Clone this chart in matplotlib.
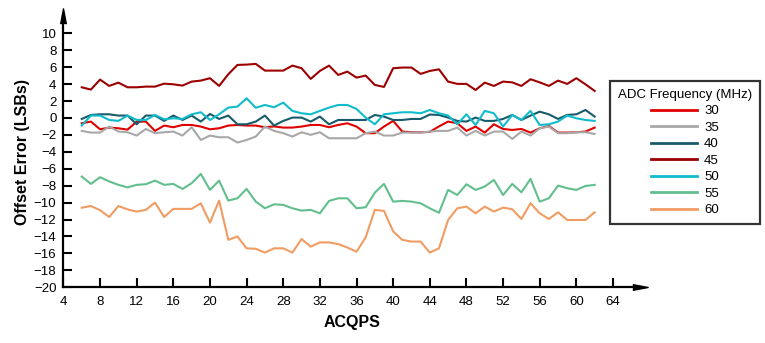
import matplotlib
matplotlib.use('Agg')
import matplotlib.pyplot as plt

# Datos (ACQPS de 6 a 62)
acqps = list(range(6, 63))

err_30 = [-0.63, -0.43, -1.34, -1.14, -1.22, -1.38, -0.43, -0.43, -1.53, -0.90,
          -1.10, -0.83, -0.83, -1.02, -1.34, -1.22, -0.90, -0.83, -0.90, -0.90,
          -1.10, -1.00, -1.14, -1.14, -1.02, -0.83, -0.83, -1.10, -0.83, -0.63,
          -1.02, -1.80, -1.80, -1.02, -0.35, -1.61, -1.69, -1.70, -1.65, -1.00,
          -0.43, -0.63, -1.53, -1.02, -1.73, -0.75, -1.30, -1.42, -1.30, -1.73,
          -1.22, -0.95, -1.73, -1.73, -1.69, -1.61, -1.14]
err_35 = [-1.53, -1.73, -1.73, -1.02, -1.61, -1.69, -2.08, -1.30, -1.80, -1.69,
          -1.61, -2.08, -1.10, -2.60, -2.08, -2.28, -2.28, -2.91, -2.60, -2.20,
          -1.02, -1.53, -1.80, -2.20, -1.69, -2.00, -1.69, -2.40, -2.40, -2.40,
          -2.40, -1.80, -1.61, -2.08, -2.08, -1.73, -1.73, -1.73, -1.61, -1.53,
          -1.53, -1.14, -2.08, -1.53, -2.08, -1.61, -1.61, -2.48, -1.61, -2.08,
          -1.22, -1.02, -1.80, -1.80, -1.69, -1.69, -1.89]
err_40 = [-0.12, 0.35, 0.43, 0.43, 0.28, 0.28, -0.75, 0.28, 0.28, -0.35,
          0.28, -0.24, 0.28, -0.43, 0.47, -0.12, 0.28, -0.75, -0.75, -0.43,
          0.28, -0.90, -0.35, 0.04, 0.04, -0.43, 0.16, -0.75, -0.24, -0.24,
          -0.24, -0.24, 0.35, 0.16, -0.24, -0.24, -0.12, -0.12, 0.40, 0.35,
          0.04, -0.35, -0.43, 0.04, -0.35, -0.35, -0.12, 0.35, -0.24, 0.28,
          0.74, 0.43, -0.12, 0.35, 0.43, 0.94, 0.16]
err_45 = [3.62, 3.35, 4.53, 3.78, 4.17, 3.62, 3.62, 3.70, 3.70, 4.05,
          3.97, 3.82, 4.29, 4.41, 4.69, 3.78, 5.16, 6.26, 6.30, 6.38,
          5.59, 5.59, 5.59, 6.18, 5.87, 4.61, 5.55, 6.18, 5.08, 5.47,
          4.76, 5.00, 3.90, 3.66, 5.87, 5.95, 5.95, 5.20, 5.55, 5.74,
          4.29, 4.02, 4.02, 3.30, 4.17, 3.78, 4.29, 4.20, 3.78, 4.57,
          4.20, 3.78, 4.41, 4.02, 4.69, 3.97, 3.19]
err_50 = [-0.90, 0.28, 0.28, -0.24, -0.35, 0.28, -0.24, -0.24, 0.35, -0.16,
          -0.04, -0.12, 0.43, 0.67, -0.24, 0.43, 1.22, 1.34, 2.32, 1.20,
          1.53, 1.26, 1.81, 0.83, 0.55, 0.43, 0.83, 1.22, 1.53, 1.53,
          1.06, 0.04, -0.75, 0.43, 0.55, 0.67, 0.67, 0.55, 0.94, 0.55,
          0.28, -0.75, 0.43, -0.83, 0.83, 0.55, -1.02, 0.35, -0.24, 0.83,
          -0.83, -0.75, -0.43, 0.28, -0.04, -0.24, -0.35]
err_55 = [-6.93, -7.79, -7.00, -7.50, -7.90, -8.20, -7.90, -7.83, -7.40, -7.90,
          -7.79, -8.38, -7.71, -6.60, -8.50, -7.40, -9.76, -9.49, -8.38, -9.88,
          -10.67, -10.20, -10.27, -10.67, -10.94, -10.86, -11.26, -9.80, -9.49, -9.49,
          -10.67, -10.55, -8.82, -7.79, -9.88, -9.80, -9.88, -10.08, -10.67, -11.20,
          -8.50, -9.10, -7.83, -8.50, -8.10, -7.32, -9.10, -7.79, -8.78, -7.20,
          -9.88, -9.49, -7.99, -8.30, -8.50, -8.03, -7.91]
err_60 = [-10.60, -10.40, -10.90, -11.70, -10.40, -10.80, -11.06, -10.86, -10.00, -11.70,
          -10.74, -10.74, -10.74, -10.08, -12.36, -9.76, -14.40, -14.00, -15.40, -15.45,
          -15.90, -15.40, -15.40, -15.90, -14.30, -15.20, -14.70, -14.70, -14.90, -15.30,
          -15.80, -14.10, -10.86, -10.98, -13.40, -14.40, -14.60, -14.60, -15.90, -15.40,
          -12.05, -10.67, -10.47, -11.26, -10.47, -11.06, -10.59, -10.78, -11.93, -10.08,
          -11.26, -11.93, -11.14, -12.05, -12.05, -12.05, -11.14]

series = [('30', err_30, '#e00000'),
          ('35', err_35, '#a8a8a8'),
          ('40', err_40, '#185c6c'),
          ('45', err_45, '#9c0000'),
          ('50', err_50, '#10bccc'),
          ('55', err_55, '#62bf8d'),
          ('60', err_60, '#f09c62')]

plt.rcParams['font.family'] = ['Liberation Sans', 'DejaVu Sans']
fuente_ticks = ['Liberation Sans Narrow', 'Liberation Sans']

fig = plt.figure(figsize=(7.65, 3.43), dpi=100)
ax = fig.add_axes([0.0829, 0.1624, 0.7537, 0.791])

for nombre, valores, color in series:
    ax.plot(acqps, valores, color=color, linewidth=1.5, label=nombre)

ax.set_xlim(4, 66.95)
ax.set_ylim(-20, 12.04)
ax.set_xticks(range(4, 65, 4))
ax.set_yticks(range(-20, 11, 2))

ax.spines['top'].set_visible(False)
ax.spines['right'].set_visible(False)
ax.spines['left'].set_linewidth(1.6)
ax.spines['bottom'].set_linewidth(1.6)
ax.tick_params(direction='in', length=6.5, width=1.5, labelsize=9.5)
ax.tick_params(axis='x', pad=6)
ax.tick_params(axis='y', pad=5)
for etiqueta in ax.get_xticklabels() + ax.get_yticklabels():
    etiqueta.set_family(fuente_ticks)

# Flechas al final de los ejes
ax.plot(1, 0, marker=[(-8, -3), (8, 0), (-8, 3)], markersize=11, color='black',
        transform=ax.transAxes, clip_on=False)
ax.plot(0, 1, marker=[(-3, -8), (0, 8), (3, -8)], markersize=11, color='black',
        transform=ax.transAxes, clip_on=False)

ax.set_xlabel('ACQPS', fontsize=11.5, fontweight='bold', labelpad=5)
ax.set_ylabel('Offset Error (LSBs)', fontsize=11.5, fontweight='bold', labelpad=3)

leg = fig.legend(title='ADC Frequency (MHz)', loc='upper left',
                 bbox_to_anchor=(610 / 765, 1 - 81 / 343), fontsize=9.5,
                 title_fontsize=9.5, handlelength=3.5, labelspacing=0.32,
                 fancybox=False, edgecolor='black', borderaxespad=0,
                 borderpad=0.6, handletextpad=0.5)
leg.get_frame().set_linewidth(1.6)
for linea in leg.get_lines():
    linea.set_linewidth(2)

plt.savefig('out.png', dpi=100)
